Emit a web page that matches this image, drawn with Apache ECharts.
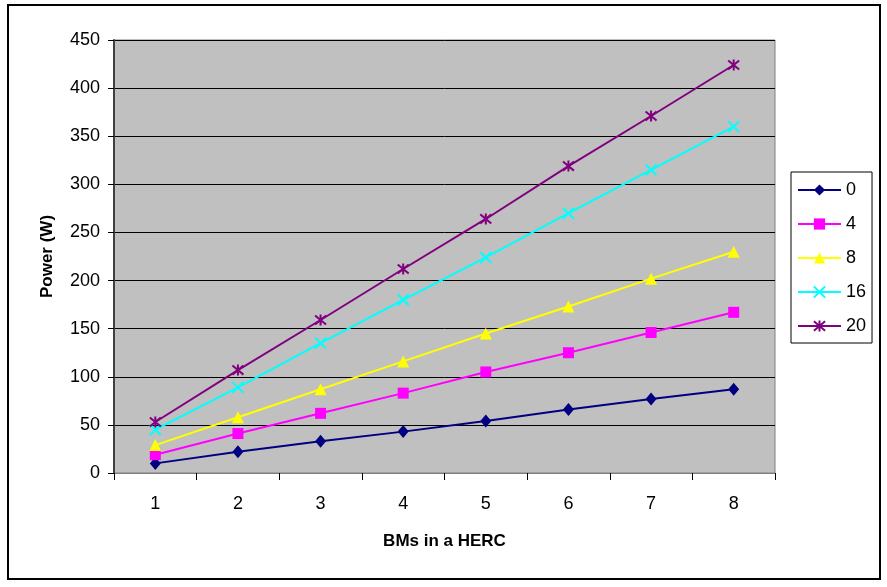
<!DOCTYPE html>
<html>
<head>
<meta charset="utf-8">
<script src="https://cdn.jsdelivr.net/npm/echarts@6/dist/echarts.min.js"></script>
<style>
  html, body { margin: 0; padding: 0; background: #fff; }
  #chart { width: 887px; height: 587px; }
</style>
</head>
<body>
<div id="chart"></div>
<script>
// BMs per HERC along the x axis
const categories = ['1', '2', '3', '4', '5', '6', '7', '8'];

// Power (W) for each setting shown in the legend
const seriesNames = ['0', '4', '8', '16', '20'];
const power0  = [10, 22, 33, 43, 54, 66, 77, 87];
const power4  = [19, 41, 62, 83, 105, 125, 146, 167];
const power8  = [29, 58, 87, 116, 145, 173, 202, 230];
const power16 = [45, 89, 135, 180, 224, 270, 315, 360];
const power20 = [53, 107, 159, 212, 264, 319, 371, 424];

const yTicks = { min: 0, max: 450, step: 50 };

const FONT = '"Liberation Sans", Arial, sans-serif';

const styles = [
  { color: '#000080', symbol: 'diamond', size: [11, 13], fill: '#000080', border: 0 },
  { color: '#ff00ff', symbol: 'rect', size: 11, fill: '#ff00ff', border: 0 },
  { color: '#ffff00', symbol: 'triangle', size: 12, fill: '#ffff00', border: 0 },
  { color: '#00ffff', symbol: 'path://M0,0L10,10M10,0L0,10', size: 11, fill: 'none', border: 2 },
  { color: '#800080', symbol: 'path://M0,0L10,10M10,0L0,10M5,-1L5,11', size: 11, fill: 'none', border: 2 }
];

const values = [power0, power4, power8, power16, power20];

const series = values.map((data, i) => {
  const s = styles[i];
  return {
    name: seriesNames[i],
    type: 'line',
    data: data,
    symbol: s.symbol,
    symbolSize: s.size,
    showAllSymbol: true,
    animation: false,
    lineStyle: { color: s.color, width: 2 },
    itemStyle: {
      color: s.fill === 'none' ? 'rgba(0,0,0,0)' : s.fill,
      borderColor: s.color,
      borderWidth: s.border
    },
    emphasis: { disabled: true }
  };
});

const chart = echarts.init(document.getElementById('chart'), null, { renderer: 'canvas' });

chart.setOption({
  backgroundColor: '#ffffff',
  animation: false,
  textStyle: { fontFamily: FONT },
  grid: {
    left: 114, top: 40, right: 112, bottom: 114,
    show: true,
    backgroundColor: '#c0c0c0',
    borderColor: '#808080',
    borderWidth: 1
  },
  xAxis: {
    type: 'category',
    data: categories,
    boundaryGap: true,
    name: 'BMs in a HERC',
    nameLocation: 'middle',
    nameGap: 60,
    nameTextStyle: { fontFamily: FONT, fontSize: 17, fontWeight: 'bold', color: '#000' },
    axisLine: { lineStyle: { color: '#808080', width: 1 } },
    axisTick: { show: true, alignWithLabel: false, length: 7, lineStyle: { color: '#000', width: 1 } },
    axisLabel: { fontFamily: FONT, fontSize: 18, color: '#000', margin: 22 },
    splitLine: { show: false }
  },
  yAxis: {
    type: 'value',
    min: yTicks.min,
    max: yTicks.max,
    interval: yTicks.step,
    name: 'Power (W)',
    nameLocation: 'middle',
    nameGap: 58,
    nameRotate: 90,
    nameTextStyle: { fontFamily: FONT, fontSize: 17, fontWeight: 'bold', color: '#000' },
    axisLine: { show: true, lineStyle: { color: '#404040', width: 2 } },
    axisTick: { show: true, length: 6, lineStyle: { color: '#000', width: 1 } },
    axisLabel: { fontFamily: FONT, fontSize: 18, color: '#000', margin: 14 },
    splitLine: { show: true, lineStyle: { color: '#000', width: 1 } }
  },
  legend: {
    orient: 'vertical',
    left: 791,
    top: 172,
    padding: [8, 6, 7, 6],
    backgroundColor: '#ffffff',
    borderColor: '#000',
    borderWidth: 1,
    itemWidth: 43,
    itemHeight: 14,
    itemGap: 14,
    selectedMode: false,
    textStyle: { fontFamily: FONT, fontSize: 18, color: '#000', lineHeight: 20 },
    data: seriesNames
  },
  graphic: [
    {
      type: 'rect',
      silent: true,
      z: 100,
      shape: { x: 8, y: 5, width: 872, height: 574 },
      style: { fill: 'none', stroke: '#000', lineWidth: 2 }
    }
  ],
  series: series
});
</script>
</body>
</html>
